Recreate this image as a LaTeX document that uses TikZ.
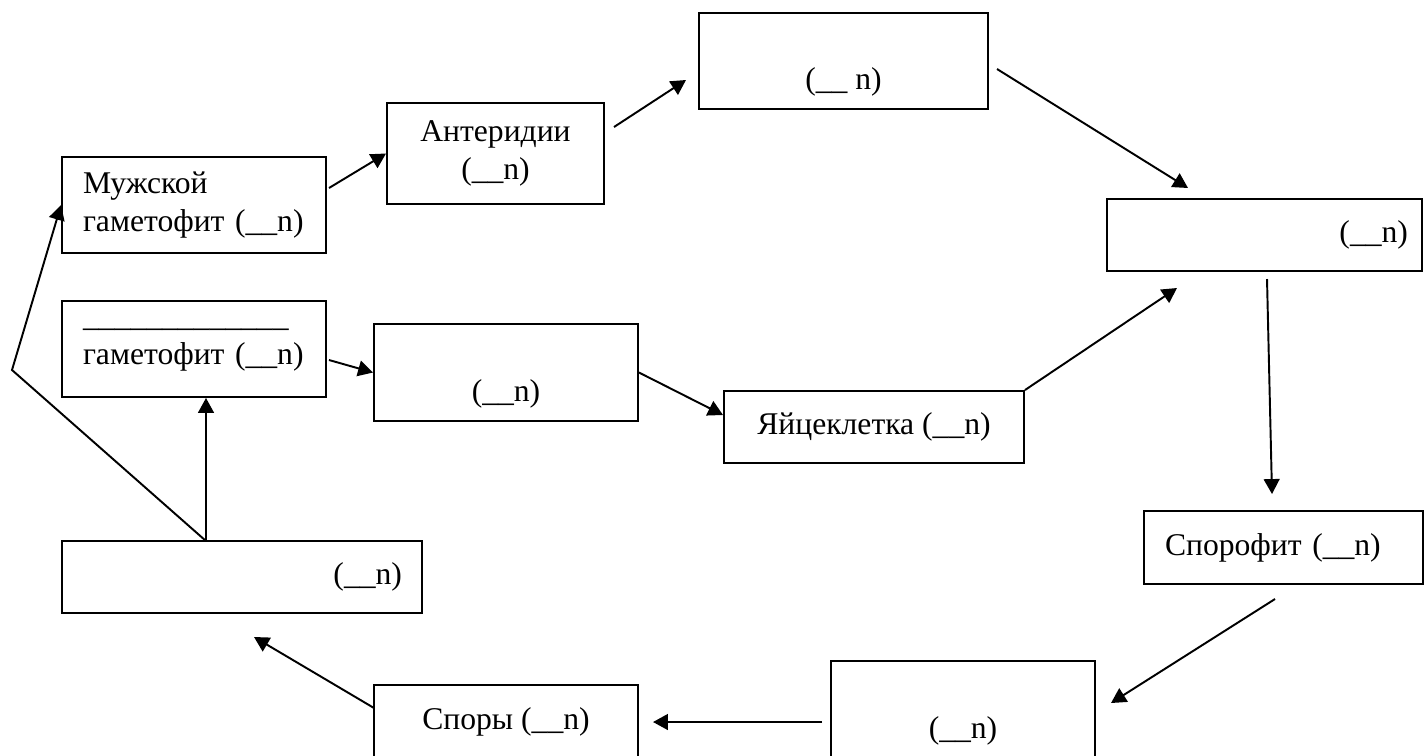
\documentclass[tikz,border=0pt]{standalone}
\usepackage{fontspec}
\setmainfont{Liberation Serif}
\usetikzlibrary{arrows.meta}
\tikzset{
  box/.style={draw, line width=1.1pt, inner sep=0pt, font=\fontsize{18}{21.5}\selectfont},
  arr/.style={-{Triangle[length=8.5pt,width=9pt]}, line width=1.1pt}
}
\begin{document}
\begin{tikzpicture}[x=0.02cm,y=-0.02cm]
\clip (0,0) rectangle (1425,755);
% boxes
\node[box, minimum width=5.28cm, minimum height=1.92cm, text width=4.44cm, align=left] (male) at (194,205) {Мужской\\гаметофит (\_\_n)};
\node[box, minimum width=5.28cm, minimum height=1.92cm, text width=4.44cm, align=left] (fem) at (194,349) {\_\_\_\_\_\_\_\_\_\_\_\_\_\\гаметофит (\_\_n)};
\node[box, minimum width=4.34cm, minimum height=2.02cm, align=center] (anth) at (495.5,153.5) {Антеридии\\(\_\_n)};
\node[box, minimum width=5.78cm, minimum height=1.92cm, align=center] (sperm) at (843.5,61) {\strut\\(\_\_ n)};
\node[box, minimum width=6.3cm, minimum height=1.44cm, text width=5.74cm, align=right] (zyg) at (1264.5,235) {(\_\_n)};
\node[box, minimum width=5.28cm, minimum height=1.94cm, align=center] (arch) at (506,372.5) {\strut\\(\_\_n)};
\node[box, minimum width=6cm, minimum height=1.44cm, align=center] (egg) at (874,427) {Яйцеклетка (\_\_n)};
\node[box, minimum width=5.58cm, minimum height=1.46cm, text width=4.74cm, align=left] (spor) at (1283.5,547.5) {Спорофит (\_\_n)};
\node[box, minimum width=5.28cm, minimum height=2.78cm, align=center] (sprg) at (963,730.5) {(\_\_n)};
\node[box, minimum width=5.28cm, minimum height=1.5cm, align=center] (spores) at (506,722.5) {\raisebox{5pt}{Споры (\_\_n)}};
\node[box, minimum width=7.2cm, minimum height=1.44cm, text width=6.4cm, align=right] (prot) at (242,577) {(\_\_n)};
% free ends
\coordinate (m1) at (329,188);
\coordinate (a1) at (614,127);
\coordinate (a2) at (686,80);
\coordinate (s1) at (997,69);
\coordinate (s2) at (1188,188);
\coordinate (z1) at (1267,279);
\coordinate (z2) at (1272,494);
\coordinate (p1) at (1275,599);
\coordinate (p2) at (1111,703);
\coordinate (g1) at (822,722);
\coordinate (g2) at (653,722);
\coordinate (o1) at (374,708);
\coordinate (o2) at (254,637);
\coordinate (fork) at (206,541);
\coordinate (bend) at (12,370);
\coordinate (f1) at (329,360);
\coordinate (e1) at (723,415);
\coordinate (e2) at (1177,288);
% arrows
\draw[arr] (m1) -- (anth.west);
\draw[arr] (a1) -- (a2);
\draw[arr] (s1) -- (s2);
\draw[arr] (z1) -- (z2);
\draw[arr] (p1) -- (p2);
\draw[arr] (g1) -- (g2);
\draw[arr] (o1) -- (o2);
\draw[arr] (fork) -- (fork |- fem.south);
\draw[arr] (fork) -- (bend) -- (male.west);
\draw[arr] (f1) -- (arch.west);
\draw[arr] (arch.east) -- (e1);
\draw[arr] (egg.north east) -- (e2);
\end{tikzpicture}
\end{document}
